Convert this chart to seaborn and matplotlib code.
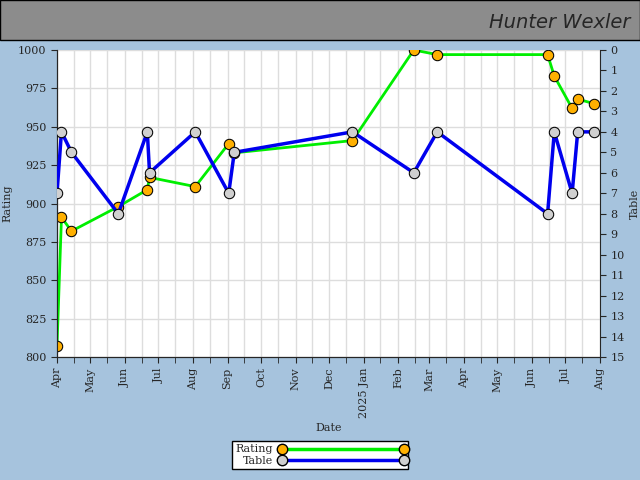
import matplotlib
matplotlib.use("Agg")
import matplotlib.pyplot as plt
import matplotlib.dates as mdates
import seaborn as sns
import pandas as pd
from matplotlib.lines import Line2D

dates = ["2024-04-01","2024-04-05","2024-04-14","2024-05-26","2024-06-21","2024-06-23",
         "2024-08-03","2024-09-02","2024-09-07","2024-12-22","2025-02-15","2025-03-08",
         "2025-06-15","2025-06-21","2025-07-07","2025-07-12","2025-07-27"]
rating = [807, 891, 882, 898, 909, 917, 911, 939, 933, 941, 1000, 997, 997, 983, 962, 968, 965]
table = [7, 4, 5, 8, 4, 6, 4, 7, 5, 4, 6, 4, 8, 4, 7, 4, 4]

df = pd.DataFrame({"Date": pd.to_datetime(dates), "Rating": rating, "Table": table})

sns.set_style("white")
plt.rcParams['font.family'] = ['DejaVu Serif']
bg = "#a6c3dd"
fig = plt.figure(figsize=(6.4, 4.8), dpi=100, facecolor=bg)
ax = fig.add_axes([57/640, 1-357/480, 543/640, 307/480])
ax.set_facecolor("white")

ms = 7.5
sns.lineplot(data=df, x="Date", y="Rating", ax=ax, color="#00ee00", lw=2,
             marker="o", markersize=ms, markerfacecolor="#ffb000", markeredgecolor="black", zorder=3)
ax2 = ax.twinx()
sns.lineplot(data=df, x="Date", y="Table", ax=ax2, color="#0000ee", lw=2.5,
             marker="o", markersize=ms, markerfacecolor="#d0d0d0", markeredgecolor="black", zorder=3)

ax.set_ylim(800, 1000)
ax.set_yticks(range(800, 1001, 25))
ax2.set_ylim(15, 0)
ax2.set_yticks(range(0, 16))
ax2.set_ylabel("Table", fontsize=8)
ax.set_ylabel("Rating", fontsize=8)
ax.set_xlabel("Date", fontsize=8)
ax.set_xlim(pd.Timestamp("2024-04-01"), pd.Timestamp("2025-08-01"))
ax.xaxis.set_major_locator(mdates.MonthLocator())
ax.xaxis.set_minor_locator(mdates.MonthLocator(bymonthday=16))
labels = []
for d in pd.date_range("2024-04-01", "2025-08-01", freq="MS"):
    labels.append("2025 Jan" if (d.year == 2025 and d.month == 1) else d.strftime("%b"))
ax.set_xticklabels(labels, rotation=90, fontsize=8)
ax.tick_params(axis="y", labelsize=8, length=4, left=True)
ax2.tick_params(axis="y", labelsize=8, length=4, right=True)
ax.tick_params(axis="x", which="both", length=4, bottom=True)
ax.grid(True, which="both", color="#dddddd", lw=1)
ax.set_axisbelow(True)
ax2.grid(False)
for a in (ax, ax2):
    for s in a.spines.values():
        s.set_visible(False)
    a.spines["left"].set_visible(True)
    a.spines["bottom"].set_visible(True)
ax2.spines["right"].set_visible(True)

fig.patches.append(plt.Rectangle((0, 1-40/480), 1, 40/480, transform=fig.transFigure,
                                 facecolor="#8c8c8c", edgecolor="black", lw=1))
fig.text(0.985, 1-22/480, "Hunter Wexler", ha="right", va="center", fontsize=14,
         family="DejaVu Sans", fontstyle="italic")

handles = [Line2D([], [], color="#00ee00", lw=2.5, marker="o", markersize=ms,
                  markerfacecolor="#ffb000", markeredgecolor="black"),
           Line2D([], [], color="#0000ee", lw=2.5, marker="o", markersize=ms,
                  markerfacecolor="#d0d0d0", markeredgecolor="black")]
leg = fig.legend(handles, ["Rating", "Table"], loc="center", bbox_to_anchor=(0.5, 1-455/480),
                 fontsize=8, handlelength=11, frameon=True, fancybox=False, markerfirst=False,
                 edgecolor="black", borderpad=0.3, labelspacing=0.1)
leg.get_frame().set_alpha(1)
for l in leg.get_lines():
    l.set_markevery([0, -1])
fig.savefig("out.png", dpi=100, facecolor=bg)
